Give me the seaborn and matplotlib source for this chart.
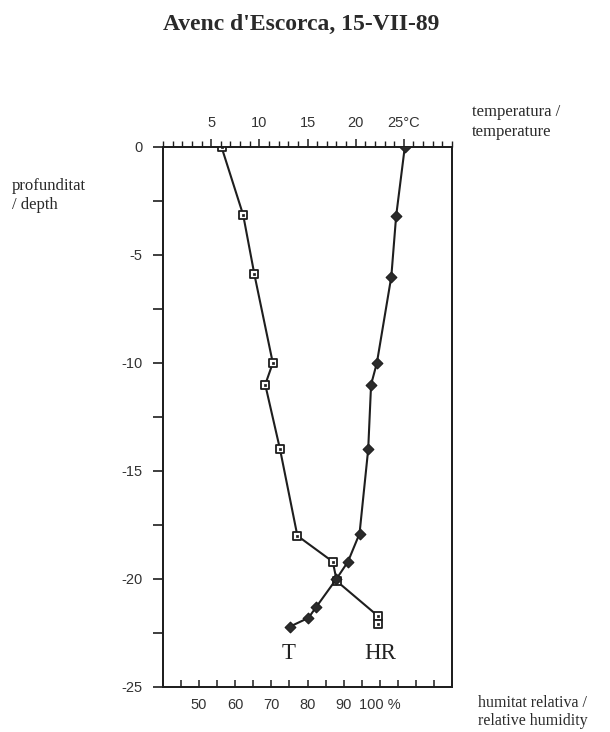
import matplotlib
matplotlib.use('Agg')
import matplotlib.pyplot as plt
import seaborn as sns
import pandas as pd
from matplotlib.ticker import FixedLocator, MultipleLocator

# humitat relativa (quadrats) - eix inferior
hr_depth = [0, -3.15, -5.9, -10.0, -11.0, -14.0, -18.0, -19.2, -20.1, -21.7, -22.1]
hr_value = [56.2, 62.2, 65.3, 70.4, 68.3, 72.4, 77.2, 87.0, 88.1, 99.4, 99.4]

# temperatura (rombes) - eix superior
t_depth = [0, -3.2, -6.0, -10.0, -11.0, -14.0, -17.9, -19.2, -20.0, -21.3, -21.8, -22.2]
t_value = [25.1, 24.2, 23.7, 22.2, 21.6, 21.3, 20.4, 19.2, 18.0, 15.9, 15.1, 13.2]

depth_ticks = [0, -5, -10, -15, -20, -25]
depth_labels = ['0', '-5', '-10', '-15', '-20', '-25']
temp_ticks = [5, 10, 15, 20, 25]
temp_labels = ['5', '10', '15', '20', '25°C']
hr_ticks = [50, 60, 70, 80, 90, 100]
hr_labels = ['50', '60', '70', '80', '90', '100 %']

sns.set_style('ticks')
plt.rcParams['font.family'] = ['Liberation Sans', 'DejaVu Sans']
serif = ['Liberation Serif', 'DejaVu Serif']
ink = '#1e1e1e'

fig = plt.figure(figsize=(6.1, 7.32), dpi=100)
fig.set_facecolor('white')
ax = fig.add_axes([0.2672, 0.0615, 0.4738, 0.7377])
ax_t = ax.twiny()

hr = pd.DataFrame({'hr': hr_value, 'depth': hr_depth})
tt = pd.DataFrame({'t': t_value, 'depth': t_depth})

# HR: linia + quadrats buits amb punt
sns.lineplot(data=hr, x='hr', y='depth', sort=False, estimator=None,
             color=ink, lw=1.5, ax=ax)
sns.scatterplot(data=hr, x='hr', y='depth', marker='s', s=36, color='white',
                edgecolor=ink, linewidth=1.3, ax=ax, zorder=3)
sns.scatterplot(data=hr, x='hr', y='depth', marker='s', s=3, color=ink,
                edgecolor=ink, linewidth=0.5, ax=ax, zorder=4)

# T: linia + rombes plens
sns.lineplot(data=tt, x='t', y='depth', sort=False, estimator=None,
             color=ink, lw=1.5, ax=ax_t)
sns.scatterplot(data=tt, x='t', y='depth', marker='D', s=30, color='#2b2b2b',
                edgecolor=ink, linewidth=0.8, ax=ax_t, zorder=3)

ax.set_xlim(40, 120)
ax.set_ylim(-25, 0)
ax_t.set_xlim(0, 30)
ax.set_xlabel('')
ax.set_ylabel('')
ax_t.set_xlabel('')
ax_t.set_ylabel('')

ax.xaxis.set_major_locator(FixedLocator(hr_ticks))
ax.set_xticklabels(hr_labels)
ax.xaxis.set_minor_locator(MultipleLocator(5))
ax.yaxis.set_major_locator(FixedLocator(depth_ticks))
ax.set_yticklabels(depth_labels)
ax.yaxis.set_minor_locator(MultipleLocator(2.5))

ax_t.xaxis.set_major_locator(FixedLocator(temp_ticks))
ax_t.set_xticklabels(temp_labels)
ax_t.xaxis.set_minor_locator(MultipleLocator(1))

ax.tick_params(axis='x', which='both', direction='in', length=5, width=1.1,
               color=ink, pad=8, labelsize=10.5, labelcolor='#333')
ax.tick_params(axis='y', which='both', direction='out', length=7, width=1.2,
               color=ink, pad=8, labelsize=10.5, labelcolor='#333')
ax_t.tick_params(axis='x', which='major', direction='out', length=6, width=1.1,
                 color=ink, pad=6, labelsize=10.5, labelcolor='#333')
ax_t.tick_params(axis='x', which='minor', direction='out', length=4, width=1.0,
                 color=ink)

for a in (ax, ax_t):
    for sp in a.spines.values():
        sp.set_visible(True)
        sp.set_color(ink)
        sp.set_linewidth(1.3)

ax.text(74.7, -23.45, 'T', family=serif, fontsize=16.5, color='#222',
        ha='center', va='center')
ax.text(100.1, -23.45, 'HR', family=serif, fontsize=16.5, color='#222',
        ha='center', va='center')

fig.text(0.494, 0.966, "Avenc d'Escorca, 15-VII-89", family=serif,
         fontsize=17, fontweight='bold', color='#2a2a2a', ha='center', va='center')
fig.text(0.774, 0.833, 'temperatura /\ntemperature', family=serif, fontsize=12,
         color='#2a2a2a', ha='left', va='center', linespacing=1.3)
fig.text(0.020, 0.733, 'profunditat\n/ depth', family=serif, fontsize=12,
         color='#2a2a2a', ha='left', va='center', linespacing=1.3)
fig.text(0.784, 0.004, 'humitat relativa /\nrelative humidity', family=serif,
         fontsize=11.5, color='#2a2a2a', ha='left', va='bottom', linespacing=1.15)

fig.savefig('out.png', dpi=100, facecolor='white')
plt.close(fig)
